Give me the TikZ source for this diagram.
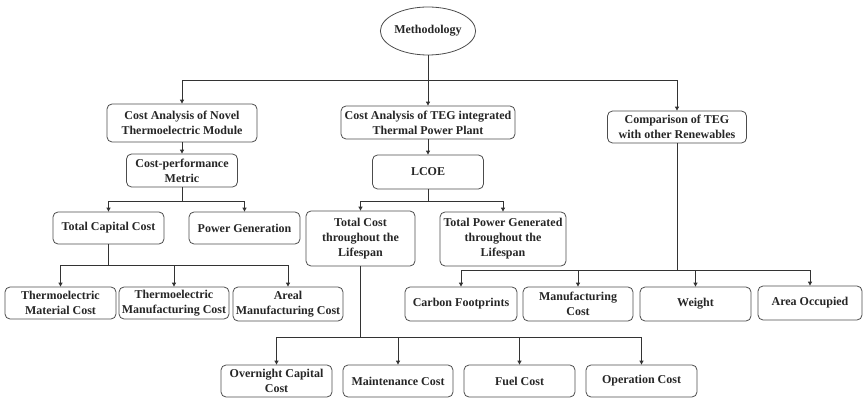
\documentclass[tikz,border=0pt]{standalone}
\usepackage{fontspec}
\setmainfont{Liberation Serif}
\usetikzlibrary{shapes.geometric,arrows.meta}
\tikzset{
  box/.style={draw=black!70, line width=0.8pt, rounded corners=5pt, align=center, inner sep=1pt,
    font=\fontsize{12}{15}\selectfont\bfseries, text=black!85},
  oval/.style={draw=black!70, line width=0.8pt, ellipse, inner sep=0pt,
    font=\fontsize{12}{15}\selectfont\bfseries, text=black!85},
  arr/.style={draw=black!80, line width=0.9pt, -{Triangle[length=4pt,width=4pt]}},
  ln/.style={draw=black!80, line width=0.9pt}
}
\begin{document}
\begin{tikzpicture}[x=1pt,y=-1pt]
\useasboundingbox (0,0) rectangle (865,398);
\node[oval, minimum width=82, minimum height=48] (meth) at (428,31) {Methodology};
\node[box, minimum width=150, minimum height=38] (A) at (182,123) {Cost Analysis of Novel\\Thermoelectric Module};
\node[box, minimum width=174, minimum height=33] (B) at (428,122.5) {Cost Analysis of TEG integrated\\Thermal Power Plant};
\node[box, minimum width=139, minimum height=32] (C) at (677,127) {Comparison of TEG\\with other Renewables};
\node[box, minimum width=111, minimum height=33] (cpm) at (182,170.5) {Cost-performance\\Metric};
\node[box, minimum width=111, minimum height=34] (lcoe) at (428,172) {LCOE};
\node[box, minimum width=111, minimum height=32] (tcc) at (108.5,228) {Total Capital Cost};
\node[box, minimum width=111, minimum height=32] (pg) at (244.5,228) {Power Generation};
\node[box, minimum width=109, minimum height=55] (tcl) at (360.5,238.5) {Total Cost\\throughout the\\Lifespan};
\node[box, minimum width=126, minimum height=54] (tpg) at (503,239) {Total Power Generated\\throughout the\\Lifespan};
\node[box, minimum width=111, minimum height=32] (tmc) at (60.5,303) {Thermoelectric\\Material Cost};
\node[box, minimum width=110, minimum height=32] (tmfc) at (174,303) {Thermoelectric\\Manufacturing Cost};
\node[box, minimum width=110, minimum height=34] (amc) at (288,304) {Areal\\Manufacturing Cost};
\node[box, minimum width=112, minimum height=34] (cf) at (461,304) {Carbon Footprints};
\node[box, minimum width=110, minimum height=34] (mc) at (578,304) {Manufacturing\\Cost};
\node[box, minimum width=111, minimum height=34] (w) at (695.5,304) {Weight};
\node[box, minimum width=104, minimum height=34] (ao) at (810,303) {Area Occupied};
\node[box, minimum width=111, minimum height=32] (occ) at (276.5,381) {Overnight Capital\\Cost};
\node[box, minimum width=110, minimum height=32] (mnt) at (398,381) {Maintenance Cost};
\node[box, minimum width=111, minimum height=32] (fuel) at (519.5,381) {Fuel Cost};
\node[box, minimum width=111, minimum height=32] (op) at (641.5,381) {Operation Cost};
% level 1
\coordinate (b1) at (428,80);
\draw[arr] (meth.south) -- (B.north);
\draw[arr] (b1) -| (A.north);
\draw[arr] (b1) -| (C.north);
% left branch
\draw[arr] (A.south) -- (cpm.north);
\coordinate (b2) at (182,201);
\draw[ln] (cpm.south) -- (b2);
\draw[arr] (b2) -| (tcc.north);
\draw[arr] (b2) -| (pg.north);
\coordinate (b3) at (108.5,265);
\draw[ln] (tcc.south) -- (b3);
\draw[arr] (b3) -| (tmc.north);
\draw[arr] (b3) -| (tmfc.north);
\draw[arr] (b3) -| (amc.north);
% middle branch
\draw[arr] (B.south) -- (lcoe.north);
\coordinate (b4) at (428,201);
\draw[ln] (lcoe.south) -- (b4);
\draw[arr] (b4) -| (tcl.north);
\draw[arr] (b4) -| (tpg.north);
\coordinate (b5) at (360.5,337);
\draw[ln] (tcl.south) -- (b5);
\draw[arr] (b5) -| (occ.north);
\draw[arr] (b5) -| (mnt.north);
\draw[arr] (b5) -| (fuel.north);
\draw[arr] (b5) -| (op.north);
% right branch
\coordinate (b6) at (677,270);
\draw[ln] (C.south) -- (b6);
\draw[arr] (b6) -| (cf.north);
\draw[arr] (b6) -| (mc.north);
\draw[arr] (b6) -| (w.north);
\draw[arr] (b6) -| (ao.north);
\end{tikzpicture}
\end{document}
